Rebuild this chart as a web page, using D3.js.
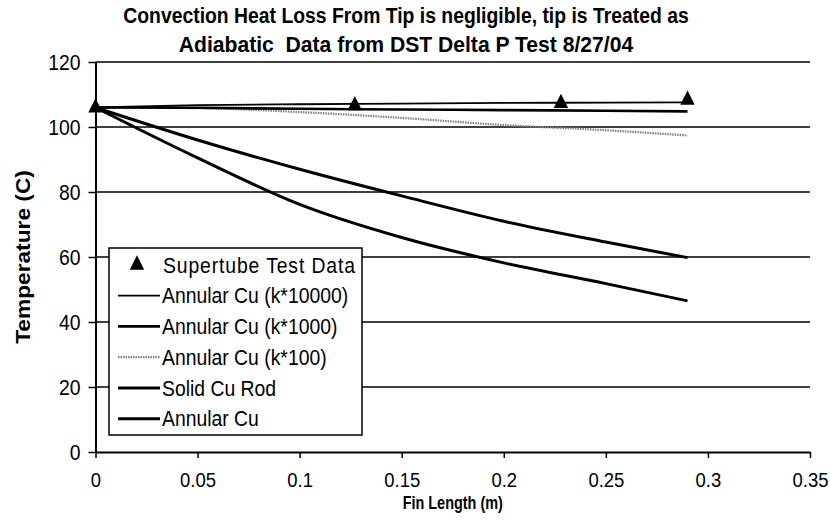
<!DOCTYPE html>
<html>
<head>
<meta charset="utf-8">
<script src="https://cdn.jsdelivr.net/npm/d3@7"></script>
<style>
  html, body { margin: 0; padding: 0; background: #fff; }
  svg { display: block; }
  text { font-family: "Liberation Sans", Arial, sans-serif; fill: #000; white-space: pre; }
</style>
</head>
<body>
<svg id="chart" width="830" height="524"></svg>
<script>
// ---------------- data ----------------
const titleLines = ["Convection Heat Loss From Tip is negligible, tip is Treated as",
                    "Adiabatic  Data from DST Delta P Test 8/27/04"];
const xTitle = "Fin Length (m)";
const yTitle = "Temperature (C)";

const xTicks = [0, 0.05, 0.1, 0.15, 0.2, 0.25, 0.3, 0.35];
const xTickLabels = ["0", "0.05", "0.1", "0.15", "0.2", "0.25", "0.3", "0.35"];
const yTicks = [0, 20, 40, 60, 80, 100, 120];
const yTickLabels = ["0", "20", "40", "60", "80", "100", "120"];

// test data (markers)
const testX = [0, 0.127, 0.228, 0.29];
const testT = [105.9, 106.6, 107.3, 108.3];

// model curves, sampled at finLength
const finLength   = [0, 0.05, 0.1, 0.15, 0.2, 0.25, 0.29];
const annK10000   = [106, 106.7, 107.0, 107.2, 107.4, 107.5, 107.6];
const annK1000    = [106, 105.9, 105.6, 105.4, 105.2, 105.0, 104.8];
const annK100     = [106, 105.8, 104.6, 102.8, 100.6, 99.0, 97.4];
const solidCuRod  = [106, 96.0, 87.0, 78.8, 71.0, 64.6, 59.8];
const annularCu   = [106, 90.5, 76.2, 66.0, 58.2, 51.8, 46.5];

const seriesNames = ["Supertube Test Data", "Annular Cu (k*10000)", "Annular Cu (k*1000)",
                     "Annular Cu (k*100)", "Solid Cu Rod", "Annular Cu"];

// ---------------- drawing ----------------
const svg = d3.select("#chart");
const W = 830, H = 524;
const plot = { left: 95.5, right: 810, top: 62, bottom: 452 };
const SX = 0.88; // horizontal compression of the scanned lettering

const x = d3.scaleLinear().domain([0, 0.35]).range([plot.left, plot.right]);
const y = d3.scaleLinear().domain([0, 120]).range([plot.bottom, plot.top]);

svg.append("rect").attr("width", W).attr("height", H).attr("fill", "#fff");

// title
const titleSX = [0.88, 0.96];
svg.selectAll("text.title").data(titleLines).join("text")
  .attr("class", "title")
  .attr("transform", (d, i) => `translate(406,${i === 0 ? 23 : 52}) scale(${titleSX[i]},1)`)
  .attr("text-anchor", "middle")
  .style("font-size", "22px").style("font-weight", "bold")
  .text(d => d);

// gridlines
svg.append("g").selectAll("line").data(yTicks.filter(d => d > 0)).join("line")
  .attr("x1", plot.left).attr("x2", plot.right)
  .attr("y1", d => y(d)).attr("y2", d => y(d))
  .attr("stroke", "#000").attr("stroke-width", 1.5);

// axes
const xAxis = d3.axisBottom(x).tickValues(xTicks)
  .tickFormat((d, i) => xTickLabels[i]).tickSize(6).tickSizeOuter(0);
const gx = svg.append("g").attr("transform", `translate(0,${plot.bottom})`).call(xAxis);
gx.select(".domain").attr("stroke", "#000").attr("stroke-width", 2);
gx.selectAll(".tick line").attr("stroke", "#000").attr("stroke-width", 1.5);
gx.selectAll(".tick text")
  .attr("y", 35).attr("dy", 0)
  .attr("transform", `scale(${SX},1)`)
  .style("font-size", "21px").style("font-family", "Liberation Sans, Arial, sans-serif");

const yAxis = d3.axisLeft(y).tickValues(yTicks)
  .tickFormat((d, i) => yTickLabels[i]).tickSize(7).tickSizeOuter(0);
const gy = svg.append("g").attr("transform", `translate(${plot.left},0)`).call(yAxis);
gy.select(".domain").attr("stroke", "#000").attr("stroke-width", 2);
gy.selectAll(".tick line").attr("stroke", "#000").attr("stroke-width", 1.5);
gy.selectAll(".tick text")
  .attr("x", -15 / SX).attr("dy", "0.36em")
  .attr("transform", `scale(${SX},1)`)
  .style("font-size", "22px").style("font-family", "Liberation Sans, Arial, sans-serif");

// axis titles
svg.append("text")
  .attr("transform", `translate(${(plot.left + plot.right) / 2},509) scale(0.76,1)`)
  .attr("text-anchor", "middle")
  .style("font-size", "19px").style("font-weight", "bold")
  .text(xTitle);

svg.append("text")
  .attr("transform", `translate(30,${(plot.top + plot.bottom) / 2}) rotate(-90) scale(${1 / SX},1)`)
  .attr("text-anchor", "middle")
  .style("font-size", "20px").style("font-weight", "bold")
  .text(yTitle);

// curves
const styles = [
  null,
  { stroke: "#000", width: 1.8, dash: null },
  { stroke: "#000", width: 2.6, dash: null },
  { stroke: "#808080", width: 2.2, dash: "1.5,1" },
  { stroke: "#000", width: 3, dash: null },
  { stroke: "#000", width: 3, dash: null }
];
const curveData = [null, annK10000, annK1000, annK100, solidCuRod, annularCu];

const line = d3.line()
  .x(d => x(d[0])).y(d => y(d[1]))
  .curve(d3.curveMonotoneX);

const gLines = svg.append("g");
for (let s = 5; s >= 1; s--) {
  const pts = finLength.map((fx, i) => [fx, curveData[s][i]]);
  gLines.append("path").datum(pts)
    .attr("d", line)
    .attr("fill", "none")
    .attr("stroke", styles[s].stroke)
    .attr("stroke-width", styles[s].width)
    .attr("stroke-dasharray", styles[s].dash);
}

// test markers
const tri = d3.symbol(d3.symbolTriangle, 90);
svg.append("g").selectAll("path").data(testX.map((fx, i) => [fx, testT[i]])).join("path")
  .attr("d", tri)
  .attr("transform", d => `translate(${x(d[0])},${y(d[1])}) scale(1,1.15)`)
  .attr("fill", "#000");

// legend
const lg = svg.append("g");
const lgBox = { x: 109, y: 248, w: 253, h: 187 };
lg.append("rect")
  .attr("x", lgBox.x).attr("y", lgBox.y).attr("width", lgBox.w).attr("height", lgBox.h)
  .attr("fill", "#fff").attr("stroke", "#000").attr("stroke-width", 1.5);

const rowY = d3.scaleBand().domain(d3.range(seriesNames.length))
  .range([lgBox.y + 1.5, lgBox.y + lgBox.h - 1]);

seriesNames.forEach((name, i) => {
  const cy = rowY(i) + rowY.bandwidth() / 2;
  if (i === 0) {
    lg.append("path").attr("d", tri)
      .attr("transform", `translate(137,${cy}) scale(1,1.15)`).attr("fill", "#000");
  } else {
    lg.append("line")
      .attr("x1", 118).attr("x2", 160).attr("y1", cy).attr("y2", cy)
      .attr("stroke", styles[i].stroke).attr("stroke-width", styles[i].width)
      .attr("stroke-dasharray", styles[i].dash);
  }
  lg.append("text")
    .attr("transform", `translate(${i === 0 ? 163 : 162},${cy + 7.7}) scale(${SX},1)`)
    .style("font-size", "22px")
    .style("letter-spacing", i === 0 ? "1px" : "0px")
    .text(name);
});
</script>
</body>
</html>
